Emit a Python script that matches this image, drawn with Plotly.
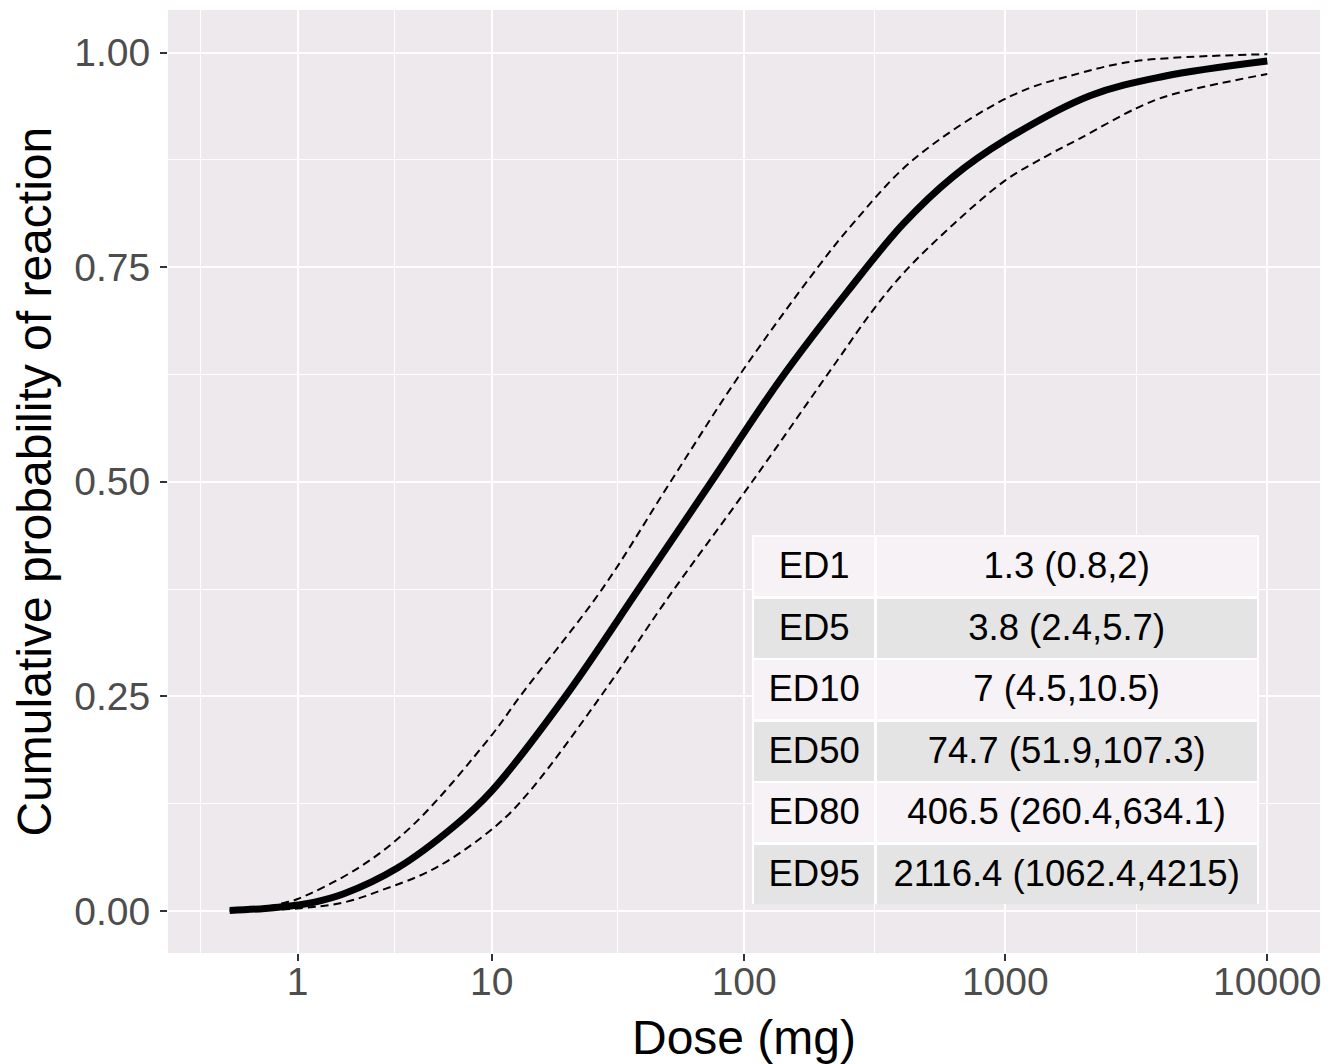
import numpy as np
import plotly.graph_objects as go

# ---- data ----
# fitted cumulative probability curve (dose in mg, probability)
fit_dose = [0.1, 0.5, 1.0, 1.3, 2.0, 3.8, 7.0, 10.0, 20.0, 40.0, 74.7, 137.0, 250.0,
            406.5, 630.0, 1000.0, 2116.4, 4000.0, 10000.0]
fit_prob = [0.0005, 0.003, 0.007, 0.010, 0.020, 0.050, 0.100, 0.140, 0.250, 0.380, 0.500,
            0.618, 0.722, 0.800, 0.855, 0.898, 0.950, 0.972, 0.990]

# upper confidence band (dashed, left)
up_dose = [0.1, 0.5, 0.8, 1.0, 2.4, 4.5, 10.0, 13.1, 28.0, 51.9, 96.4, 192.0, 260.4,
           444.5, 1062.4, 1931.0, 3162.0, 10000.0]
up_prob = [0.0005, 0.005, 0.010, 0.014, 0.050, 0.100, 0.205, 0.250, 0.375, 0.500, 0.625,
           0.750, 0.800, 0.875, 0.950, 0.976, 0.990, 0.998]

# lower confidence band (dashed, right)
lo_dose = [0.1, 1.0, 2.0, 3.16, 5.7, 10.5, 14.4, 29.2, 49.4, 107.3, 227.5, 316.0, 414.0,
           634.1, 1000.0, 1448.0, 1931.0, 3162.0, 4215.0, 10000.0]
lo_prob = [0.0003, 0.003, 0.010, 0.024, 0.050, 0.100, 0.140, 0.260, 0.360, 0.500, 0.641,
           0.702, 0.745, 0.800, 0.851, 0.880, 0.900, 0.935, 0.950, 0.975]

# effective-dose table
ed_labels = ["ED1", "ED5", "ED10", "ED50", "ED80", "ED95"]
ed_values = ["1.3 (0.8,2)", "3.8 (2.4,5.7)", "7 (4.5,10.5)", "74.7 (51.9,107.3)",
             "406.5 (260.4,634.1)", "2116.4 (1062.4,4215)"]

# axis ticks
x_ticks = [1, 10, 100, 1000, 10000]
y_ticks = [0.0, 0.25, 0.50, 0.75, 1.00]

# ---- styling ----
FONT = "Liberation Sans, Arial, sans-serif"
PANEL = "#EDE9ED"
LIGHT = "#F6F2F5"
GREY = "#E4E4E4"
CLEAR = "rgba(0,0,0,0)"

# x axis is a pseudo-log scale: log10(dose + 1)
def tx(v):
    return [d + 1 for d in v]

fig = go.Figure()
for xs, ys in [(up_dose, up_prob), (lo_dose, lo_prob)]:
    fig.add_trace(go.Scatter(x=tx(xs), y=ys, mode="lines",
                             line=dict(color="black", width=2, dash="8px,5px", shape="spline", smoothing=1.0),
                             showlegend=False, hoverinfo="skip"))
fig.add_trace(go.Scatter(x=tx(fit_dose), y=fit_prob, mode="lines",
                         line=dict(color="black", width=7, shape="spline", smoothing=1.0),
                         showlegend=False, hoverinfo="skip"))

# table: first row as header, the rest as cells
row_fill = [LIGHT if i % 2 == 0 else GREY for i in range(len(ed_labels))]
tab_x = [0.5076, 0.9467]
tab_y = [0.0509, 0.4422]
row_h = 61.5
col_w = [123, 383]
tfont = dict(family=FONT, size=36.5, color="black")

# background cells (fills and white borders)
fig.add_trace(go.Table(
    domain=dict(x=tab_x, y=tab_y), columnwidth=col_w,
    header=dict(values=["", ""], height=row_h, fill=dict(color=row_fill[0]),
                line=dict(color="white", width=2.5)),
    cells=dict(values=[[""] * 5, [""] * 5], height=row_h,
               fill=dict(color=[row_fill[1:], row_fill[1:]]), line=dict(color="white", width=2.5)),
))
# text layer, nudged down so the text sits in the middle of each row
nudge = 7 / 943
fig.add_trace(go.Table(
    domain=dict(x=tab_x, y=[tab_y[0] - nudge, tab_y[1] - nudge]), columnwidth=col_w,
    header=dict(values=[ed_labels[0], ed_values[0]], height=row_h, fill=dict(color=CLEAR),
                line=dict(color=CLEAR, width=0), align="center", font=tfont),
    cells=dict(values=[ed_labels[1:], ed_values[1:]], height=row_h, fill=dict(color=CLEAR),
               line=dict(color=CLEAR, width=0), align="center", font=tfont),
))

major_t = np.log10(np.array(x_ticks) + 1.0)
mid = (major_t[:-1] + major_t[1:]) / 2
minor_t = np.concatenate([[major_t[0] - (major_t[1] - major_t[0]) / 2], mid])
minor_x = list(10 ** minor_t)

y_minor = [(a + b) / 2 for a, b in zip(y_ticks[:-1], y_ticks[1:])]

# the page body has an 8px default margin, so the figure is 8px smaller
fig.update_layout(
    width=1334, height=1056,
    margin=dict(l=160, r=22, t=2, b=111, pad=0),
    paper_bgcolor="white", plot_bgcolor=PANEL,
    font=dict(family=FONT),
    showlegend=False,
    annotations=[dict(text="Cumulative probability of reaction", textangle=-90,
                      xref="paper", yref="paper", x=0, y=0.5, xanchor="center", yanchor="middle",
                      xshift=-134, showarrow=False,
                      font=dict(size=48, color="black", family=FONT))],
)
fig.update_xaxes(
    type="log", range=[-0.1938, 4.2011], automargin=False,
    tickvals=[v + 1 for v in x_ticks], ticktext=[str(v) for v in x_ticks],
    tickfont=dict(size=39, color="#4D4D4D", family=FONT),
    ticks="outside", ticklen=7, tickwidth=2, tickcolor="#333333",
    ticklabelstandoff=-13,
    showgrid=True, gridcolor="white", gridwidth=2.4,
    minor=dict(tickvals=minor_x, showgrid=True, gridcolor="white", gridwidth=1.2, ticks=""),
    zeroline=False, showline=False,
    title=dict(text="Dose (mg)", font=dict(size=48, color="black", family=FONT), standoff=18),
)
fig.update_yaxes(
    range=[-0.0489, 1.0495], automargin=False,
    tickvals=y_ticks, ticktext=[f"{v:.2f}" for v in y_ticks],
    tickfont=dict(size=39, color="#4D4D4D", family=FONT),
    ticks="outside", ticklen=7, tickwidth=2, tickcolor="#333333",
    ticklabelstandoff=2,
    showgrid=True, gridcolor="white", gridwidth=2.4,
    minor=dict(tickvals=y_minor, showgrid=True, gridcolor="white", gridwidth=1.2, ticks=""),
    zeroline=False, showline=False,
)

fig.write_html("out.html")
